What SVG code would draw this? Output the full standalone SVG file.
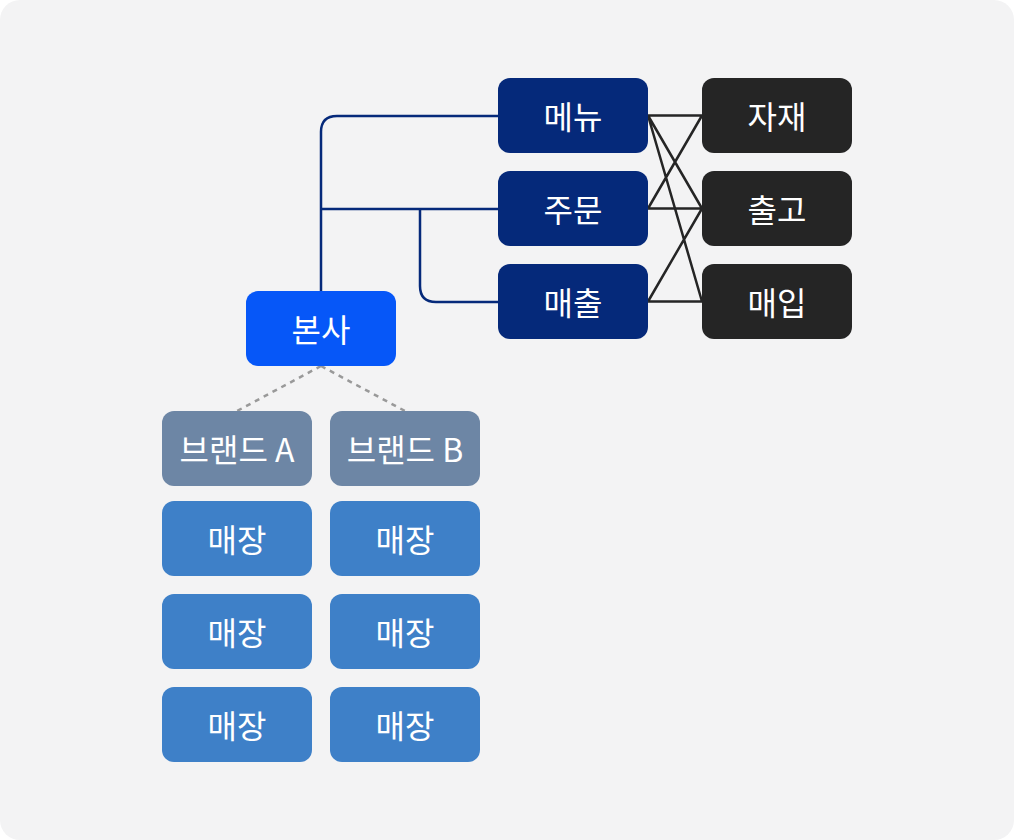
<svg xmlns="http://www.w3.org/2000/svg" width="1014" height="840" viewBox="0 0 1014 840">
<style>
text{font-family:"Noto Sans CJK KR","Noto Sans",sans-serif;font-size:32px;fill:#ffffff;text-anchor:middle;dominant-baseline:central}
.hq{fill:#0657f8}
.mid{fill:#05297a}
.dark{fill:#252525}
.brand{fill:#6d86a5}
.store{fill:#3e80c8}
.navy{fill:none;stroke:#05297a;stroke-width:2.5}
.blk{fill:none;stroke:#252525;stroke-width:2.5}
.dash{fill:none;stroke:#999999;stroke-width:2.5;stroke-dasharray:5 5}
</style>
<rect x="0" y="0" width="1014" height="840" rx="20" fill="#f3f3f4"/>
<g id="connectors">
<path class="navy" d="M321 291 V132 Q321 116 337 116 H498"/>
<path class="navy" d="M321 209 H498"/>
<path class="navy" d="M420 209 V286 Q420 302 436 302 H498"/>
<path class="blk" d="M648 115.5 H702 M648 208.5 H702 M648 301.5 H702 M648 115.5 L702 208.5 M648 115.5 L702 301.5 M648 208.5 L702 115.5 M648 301.5 L702 208.5"/>
<path class="dash" d="M321 366 L237 411 M321 366 L405 411"/>
</g>
<g id="n-hq"><rect class="hq" x="246" y="291" width="150" height="75" rx="12"/><text x="321" y="328">본사</text></g>
<g id="n-menu"><rect class="mid" x="498" y="78" width="150" height="75" rx="12"/><text x="573" y="115">메뉴</text></g>
<g id="n-order"><rect class="mid" x="498" y="171" width="150" height="75" rx="12"/><text x="573" y="208">주문</text></g>
<g id="n-sales"><rect class="mid" x="498" y="264" width="150" height="75" rx="12"/><text x="573" y="301">매출</text></g>
<g id="n-material"><rect class="dark" x="702" y="78" width="150" height="75" rx="12"/><text x="777" y="115">자재</text></g>
<g id="n-release"><rect class="dark" x="702" y="171" width="150" height="75" rx="12"/><text x="777" y="208">출고</text></g>
<g id="n-purchase"><rect class="dark" x="702" y="264" width="150" height="75" rx="12"/><text x="777" y="301">매입</text></g>
<g id="n-brand-a"><rect class="brand" x="162" y="411" width="150" height="75" rx="12"/><text x="237" y="448">브랜드 A</text></g>
<g id="n-brand-b"><rect class="brand" x="330" y="411" width="150" height="75" rx="12"/><text x="405" y="448">브랜드 B</text></g>
<g id="n-store-a1"><rect class="store" x="162" y="501" width="150" height="75" rx="12"/><text x="237" y="538">매장</text></g>
<g id="n-store-b1"><rect class="store" x="330" y="501" width="150" height="75" rx="12"/><text x="405" y="538">매장</text></g>
<g id="n-store-a2"><rect class="store" x="162" y="594" width="150" height="75" rx="12"/><text x="237" y="631">매장</text></g>
<g id="n-store-b2"><rect class="store" x="330" y="594" width="150" height="75" rx="12"/><text x="405" y="631">매장</text></g>
<g id="n-store-a3"><rect class="store" x="162" y="687" width="150" height="75" rx="12"/><text x="237" y="724">매장</text></g>
<g id="n-store-b3"><rect class="store" x="330" y="687" width="150" height="75" rx="12"/><text x="405" y="724">매장</text></g>
</svg>
